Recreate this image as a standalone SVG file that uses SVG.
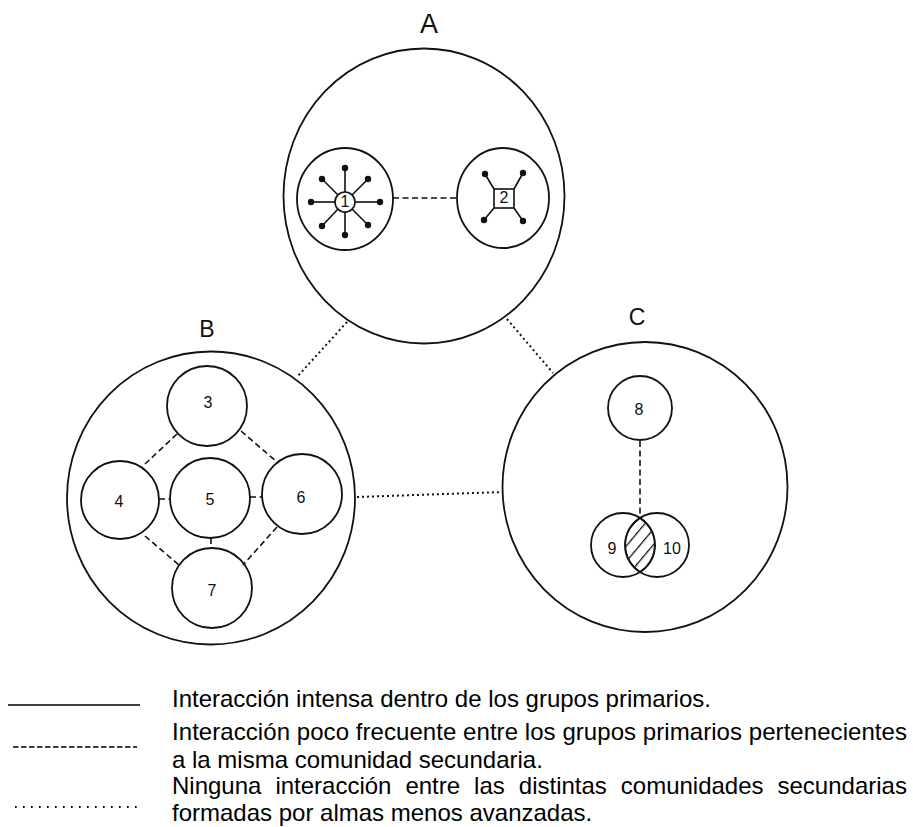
<svg xmlns="http://www.w3.org/2000/svg" width="913" height="827" viewBox="0 0 913 827">
<style>
  .c { fill: none; stroke: #111; stroke-width: 1.8; }
  .ci { fill: #fff; stroke: #111; stroke-width: 1.6; }
  .spoke { stroke: #111; stroke-width: 1.6; fill: none; }
  .dot { fill: #111; }
  .dash { stroke: #111; stroke-width: 1.6; stroke-dasharray: 6 3.5; fill: none; }
  .dotl { stroke: #111; stroke-width: 2; stroke-dasharray: 2 3; fill: none; }
  .lbl { font-family: "Liberation Sans", Arial, sans-serif; fill: #111; text-anchor: middle; }
  .num { font-family: "Liberation Sans", Arial, sans-serif; font-size: 16px; fill: #111; text-anchor: middle; }
  .leg { font-family: "Liberation Sans", Arial, sans-serif; font-size: 24px; fill: #000; }
</style>
<defs>
  <pattern id="hatch" patternUnits="userSpaceOnUse" width="10" height="10" patternTransform="rotate(40)">
    <line x1="0" y1="0" x2="0" y2="10" stroke="#111" stroke-width="2.6"/>
  </pattern>
</defs>
<rect width="913" height="827" fill="#fff"/>

<!-- Community A -->
<g id="nodeA">
  <ellipse class="c" cx="424" cy="196" rx="140.5" ry="147.5"/>
  <text class="lbl" x="429" y="33" font-size="27">A</text>
</g>
<g id="node1">
  <ellipse class="c" cx="345" cy="199" rx="48" ry="51"/>
  <g class="spoke">
    <line x1="345" y1="192" x2="345" y2="168"/>
    <line x1="345" y1="212" x2="345" y2="235"/>
    <line x1="335" y1="202" x2="311" y2="202"/>
    <line x1="355" y1="202" x2="380" y2="202"/>
    <line x1="338" y1="195" x2="322" y2="179"/>
    <line x1="352" y1="195" x2="368" y2="179"/>
    <line x1="338" y1="209" x2="322" y2="226"/>
    <line x1="352" y1="209" x2="368" y2="225"/>
  </g>
  <g class="dot">
    <circle cx="345" cy="168" r="3.2"/>
    <circle cx="345" cy="235" r="3.2"/>
    <circle cx="311" cy="202" r="3.2"/>
    <circle cx="380" cy="202" r="3.2"/>
    <circle cx="322" cy="179" r="3.2"/>
    <circle cx="368" cy="179" r="3.2"/>
    <circle cx="322" cy="226" r="3.2"/>
    <circle cx="368" cy="225" r="3.2"/>
  </g>
  <circle class="ci" cx="345" cy="202" r="10"/>
  <text class="num" x="345" y="207" font-size="13">1</text>
</g>
<g id="node2">
  <ellipse class="c" cx="503" cy="198" rx="46" ry="50"/>
  <g class="spoke">
    <line x1="494" y1="189" x2="485" y2="174"/>
    <line x1="514" y1="189" x2="523" y2="173"/>
    <line x1="494" y1="208" x2="484" y2="220"/>
    <line x1="514" y1="208" x2="523" y2="221"/>
  </g>
  <g class="dot">
    <circle cx="485" cy="174" r="3.2"/>
    <circle cx="523" cy="173" r="3.2"/>
    <circle cx="484" cy="220" r="3.2"/>
    <circle cx="523" cy="221" r="3.2"/>
  </g>
  <rect class="ci" x="494" y="189" width="20" height="19"/>
  <text class="num" x="504" y="203" font-size="13">2</text>
</g>

<!-- Community B -->
<g id="nodeB">
  <ellipse class="c" cx="211" cy="498" rx="144" ry="146.5"/>
  <text class="lbl" x="207" y="337" font-size="23">B</text>
</g>
<g id="node3"><circle class="c" cx="207" cy="406" r="40"/><text class="num" x="208" y="408">3</text></g>
<g id="node4"><circle class="c" cx="120" cy="500" r="39"/><text class="num" x="119" y="507">4</text></g>
<g id="node5"><circle class="c" cx="210" cy="498" r="40"/><text class="num" x="210" y="505">5</text></g>
<g id="node6"><circle class="c" cx="302" cy="494" r="40"/><text class="num" x="301" y="503">6</text></g>
<g id="node7"><circle class="c" cx="212" cy="588" r="40"/><text class="num" x="212" y="596">7</text></g>

<!-- Community C -->
<g id="nodeC">
  <ellipse class="c" cx="645" cy="487" rx="142.5" ry="145"/>
  <text class="lbl" x="637" y="325" font-size="23">C</text>
</g>
<g id="node8"><circle class="c" cx="640" cy="408" r="32"/><text class="num" x="639" y="415">8</text></g>
<g id="node9"><circle class="c" cx="623" cy="545" r="32"/><text class="num" x="612" y="554">9</text></g>
<g id="node10"><circle class="c" cx="657" cy="545" r="32"/><text class="num" x="672" y="554">10</text></g>
<g id="overlap">
  <path d="M640,518 A32,32 0 0 1 640,572 A32,32 0 0 1 640,518 Z" fill="url(#hatch)" stroke="#111" stroke-width="1.6"/>
</g>

<!-- Connectors -->
<g id="connectors">
  <line class="dash" x1="393" y1="198" x2="457" y2="198"/>
  <line class="dash" x1="177" y1="434" x2="145" y2="464"/>
  <line class="dash" x1="241" y1="431" x2="277" y2="462"/>
  <line class="dash" x1="145" y1="536" x2="179" y2="565"/>
  <line class="dash" x1="277" y1="527" x2="243" y2="565"/>
  <line class="dash" x1="159" y1="499" x2="170" y2="499"/>
  <line class="dash" x1="250" y1="497" x2="262" y2="497"/>
  <line class="dash" x1="211" y1="538" x2="211" y2="548"/>
  <line class="dash" x1="640" y1="441" x2="640" y2="518"/>
  <line class="dotl" x1="347" y1="322" x2="297" y2="377"/>
  <line class="dotl" x1="507" y1="319" x2="553" y2="373"/>
  <line class="dotl" x1="357" y1="497" x2="503" y2="492"/>
</g>

<!-- Legend -->
<g id="legend">
  <line x1="8" y1="705" x2="140" y2="705" stroke="#000" stroke-width="1.5"/>
  <line x1="13" y1="747" x2="137" y2="747" stroke="#000" stroke-width="1.5" stroke-dasharray="5.5 2.5"/>
  <line x1="15" y1="807" x2="137" y2="807" stroke="#000" stroke-width="1.8" stroke-dasharray="1.6 6.4"/>
  <text class="leg" x="172" y="707">Interacción intensa dentro de los grupos primarios.</text>
  <text class="leg" x="172" y="740" textLength="735" lengthAdjust="spacing">Interacción poco frecuente entre los grupos primarios pertenecientes</text>
  <text class="leg" x="172" y="768">a la misma comunidad secundaria.</text>
  <text class="leg" y="794"><tspan x="172">Ninguna</tspan><tspan x="275.4">interacción</tspan><tspan x="405.4">entre</tspan><tspan x="474.1">las</tspan><tspan x="518.8">distintas</tspan><tspan x="620.8">comunidades</tspan><tspan x="777.5">secundarias</tspan></text>
  <text class="leg" x="172" y="821">formadas por almas menos avanzadas.</text>
</g>
</svg>
